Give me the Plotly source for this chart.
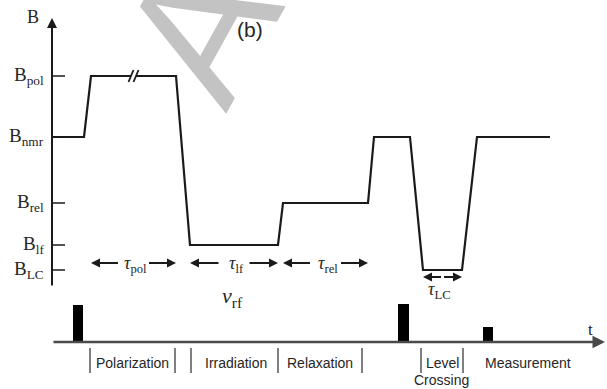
import plotly.graph_objects as go

# ---------------- data ----------------
level_names = ["B<sub>LC</sub>", "B<sub>lf</sub>", "B<sub>rel</sub>", "B<sub>nmr</sub>", "B<sub>pol</sub>"]
level_values = [1.7, 4.2, 8.4, 15.0, 21.1]
B_LC, B_lf, B_rel, B_nmr, B_pol = level_values

# field-cycling profile (time, field)
t_profile = [0, 3.2, 3.9, 12.4, 13.8, 22.6, 23.1, 31.6, 32.2, 35.8, 37.1, 41.0, 42.5, 49.8]
B_profile = [B_nmr, B_nmr, B_pol, B_pol, B_lf, B_lf, B_rel, B_rel, B_nmr, B_nmr, B_LC, B_LC, B_nmr, B_nmr]
break_t = [7.9, 8.4]          # axis-break on the polarization plateau

# rf pulses
pulse_t = [2.6, 35.15, 43.6]
pulse_width = [1.0, 1.1, 1.0]
pulse_amp = [3.7, 3.8, 1.5]

# durations
tau_labels = ["<i>τ</i><sub>pol</sub>", "<i>τ</i><sub>lf</sub>", "<i>τ</i><sub>rel</sub>"]
tau_start = [3.9, 13.8, 23.1]
tau_end = [12.4, 22.6, 31.6]
tau_LC_start, tau_LC_end = 37.1, 41.0

# phase labels
phase_labels = ["Polarization", "Irradiation", "Relaxation", "Level", "Crossing", "Measurement"]
phase_centers = [8.0, 18.4, 26.8, 39.0, 38.9, 47.6]
phase_label_y = [-2.1, -2.1, -2.1, -2.1, -3.8, -2.1]
phase_bars = [3.8, 12.3, 13.9, 22.6, 31.0, 36.9, 41.1]

# ---------------- figure ----------------
LINE = "#1a1a1a"
TXT = "#262626"
SERIF = "Liberation Serif"
SANS = "Liberation Sans"

fig = go.Figure()

# watermark (drawn first so that it sits beneath)
fig.add_annotation(x=232 / 607, y=1 + 29 / 389, xref="paper", yref="paper", text="AC", showarrow=False,
                   textangle=-61, xanchor="center", yanchor="middle",
                   font=dict(family="Liberation Sans Narrow, Liberation Sans", size=185,
                             color="rgba(188,188,188,0.9)"))

# field profile with break
xs, ys = [], []
for i in range(len(t_profile)):
    xs.append(t_profile[i]); ys.append(B_profile[i])
    if i + 1 < len(t_profile) and t_profile[i] < break_t[0] < t_profile[i + 1]:
        xs += [break_t[0], None, break_t[1]]
        ys += [B_profile[i], None, B_profile[i]]
fig.add_trace(go.Scatter(x=xs, y=ys, mode="lines", line=dict(color=LINE, width=2.2),
                         hoverinfo="skip", showlegend=False))
# break slashes
for tb in break_t:
    fig.add_trace(go.Scatter(x=[tb - 0.25, tb + 0.25], y=[B_pol - 0.6, B_pol + 0.6], mode="lines",
                             line=dict(color=LINE, width=1.8), hoverinfo="skip", showlegend=False))

# level ticks + labels
for name, v in zip(level_names, level_values):
    fig.add_trace(go.Scatter(x=[0, 1.3], y=[v, v], mode="lines", line=dict(color=LINE, width=1.5),
                             hoverinfo="skip", showlegend=False))
    fig.add_annotation(x=-0.6, y=v, xref="x", yref="y", text=name, showarrow=False,
                       xanchor="right", yanchor="middle", font=dict(family=SERIF, size=19, color=TXT))

# B axis (arrow)
fig.add_annotation(x=0, y=26.9, ax=0, ay=0, xref="x", yref="y", axref="x", ayref="y", text="",
                   showarrow=True, arrowhead=2, arrowsize=1.0, arrowwidth=2, arrowcolor=LINE)
fig.add_annotation(x=-1.9, y=27.0, xref="x", yref="y", text="B", showarrow=False,
                   font=dict(family=SERIF, size=18, color=TXT))

# tau arrows
for lab, a, b in zip(tau_labels, tau_start, tau_end):
    mid = (a + b) / 2
    fig.add_annotation(x=a, y=2.4, ax=mid - 1.4, ay=2.4, xref="x", yref="y", axref="x", ayref="y",
                       text="", showarrow=True, arrowhead=2, arrowsize=0.9, arrowwidth=2, arrowcolor=LINE)
    fig.add_annotation(x=b, y=2.4, ax=mid + 1.4, ay=2.4, xref="x", yref="y", axref="x", ayref="y",
                       text="", showarrow=True, arrowhead=2, arrowsize=0.9, arrowwidth=2, arrowcolor=LINE)
    fig.add_annotation(x=mid + 0.2, y=2.3, xref="x", yref="y", text=lab, showarrow=False,
                       font=dict(family=SERIF, size=18, color=TXT))
# tau LC (double arrow)
midLC = (tau_LC_start + tau_LC_end) / 2
fig.add_annotation(x=tau_LC_start, y=1.0, ax=midLC, ay=1.0, xref="x", yref="y", axref="x", ayref="y",
                   text="", showarrow=True, arrowhead=2, arrowsize=0.9, arrowwidth=2, arrowcolor=LINE)
fig.add_annotation(x=tau_LC_end, y=1.0, ax=midLC, ay=1.0, xref="x", yref="y", axref="x", ayref="y",
                   text="", showarrow=True, arrowhead=2, arrowsize=0.9, arrowwidth=2, arrowcolor=LINE)
fig.add_annotation(x=midLC - 0.3, y=-0.3, xref="x", yref="y", text="<i>τ</i><sub>LC</sub>", showarrow=False,
                   font=dict(family=SERIF, size=18, color=TXT))

# nu_rf
fig.add_annotation(x=18.0, y=-1.0, xref="x", yref="y", text="<i>ν</i><sub>rf</sub>", showarrow=False,
                   font=dict(family=SERIF, size=22, color=TXT))

# (b)
fig.add_annotation(x=19.8, y=25.8, xref="x", yref="y", text="(b)", showarrow=False,
                   font=dict(family=SANS, size=21, color=TXT))

# pulses (lower axis)
fig.add_trace(go.Bar(x=pulse_t, y=pulse_amp, width=pulse_width, marker=dict(color="black", line=dict(width=0)),
                     yaxis="y2", hoverinfo="skip", showlegend=False))
# time axis arrow
fig.add_annotation(x=55.3, y=0, ax=0, ay=0, xref="x", yref="y2", axref="x", ayref="y2", text="",
                   showarrow=True, arrowhead=2, arrowsize=1.0, arrowwidth=2.5, arrowcolor="#4a4a4a")
fig.add_annotation(x=53.8, y=1.3, xref="x", yref="y2", text="t", showarrow=False,
                   font=dict(family=SERIF, size=17, color=TXT))

# phase bars & labels
for pb in phase_bars:
    fig.add_trace(go.Scatter(x=[pb, pb], y=[-0.6, -3.1], mode="lines", yaxis="y2",
                             line=dict(color="#555555", width=1.5), hoverinfo="skip", showlegend=False))
for lab, c, yy in zip(phase_labels, phase_centers, phase_label_y):
    fig.add_annotation(x=c, y=yy, xref="x", yref="y2", text=lab, showarrow=False, yanchor="middle",
                       font=dict(family=SANS, size=14, color=TXT))

fig.update_layout(
    width=607, height=389, margin=dict(l=0, r=0, t=0, b=0),
    paper_bgcolor="white", plot_bgcolor="rgba(0,0,0,0)",
    xaxis=dict(range=[-5.2, 55.5], visible=False, fixedrange=True),
    yaxis=dict(range=[-10.2, 28.7], visible=False, fixedrange=True, domain=[0, 1]),
    yaxis2=dict(range=[-4.7, 34.2], visible=False, fixedrange=True, overlaying="y"),
    bargap=0, showlegend=False,
)
fig.write_html("out.html")
